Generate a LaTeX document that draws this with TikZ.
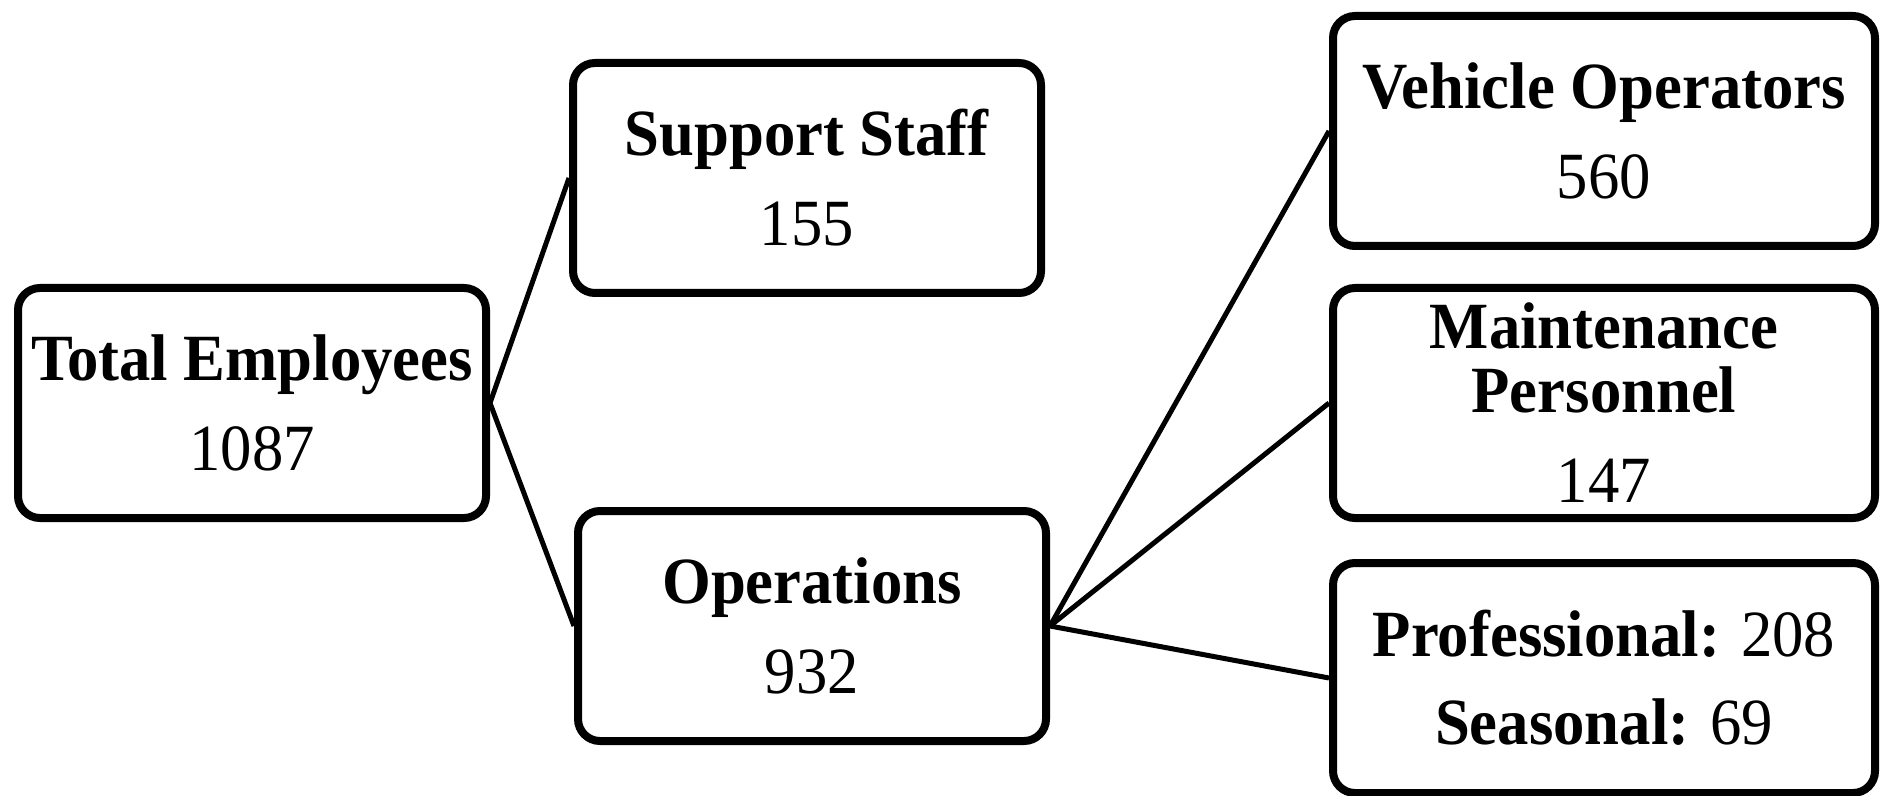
\documentclass[tikz,border=0pt]{standalone}
\usepackage{fontspec}
\setmainfont{Liberation Serif}[FakeStretch=0.95]
\begin{document}
\begin{tikzpicture}[x=0.5pt,y=-0.5pt,
	box/.style={draw,line width=4pt,rounded corners=11pt,minimum width=234pt,minimum height=115pt,
		align=center,inner sep=0pt,font=\fontsize{33}{32}\selectfont},
	widebox/.style={box,minimum width=271pt},
	link/.style={line width=2.5pt}]
	\useasboundingbox (0,0) rectangle (1894,796);
	% first level
	\node[box] (total) at (252,403) {\textbf{Total Employees}\\[13pt]1087};
	\node[box] (support) at (807,178) {\textbf{Support Staff}\\[13pt]155};
	\node[box] (ops) at (812,626) {\textbf{Operations}\\[13pt]932};
	% operations breakdown
	\node[widebox] (vehicle) at (1604,131) {\textbf{Vehicle Operators}\\[13pt]560};
	\node[widebox] (maint) at (1604,403) {\textbf{Maintenance}\\\textbf{Personnel}\\[13pt]147};
	\node[widebox] (prof) at (1604,678) {\textbf{Professional:} 208\\[12pt]\textbf{Seasonal:} 69};
	\draw[link] (total.east) -- (support.west);
	\draw[link] (total.east) -- (ops.west);
	\draw[link] (ops.east) -- (vehicle.west);
	\draw[link] (ops.east) -- (maint.west);
	\draw[link] (ops.east) -- (prof.west);
\end{tikzpicture}
\end{document}
